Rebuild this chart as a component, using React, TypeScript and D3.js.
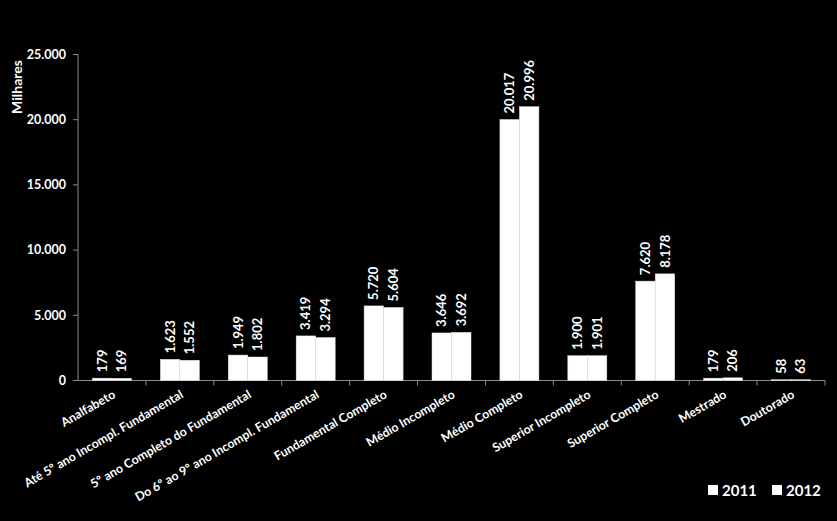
import React from "react";
import * as d3 from "d3";

const categories = [
  "Analfabeto",
  "Até 5º ano Incompl. Fundamental",
  "5º ano Completo do Fundamental",
  "Do 6º ao 9º ano Incompl. Fundamental",
  "Fundamental Completo",
  "Médio Incompleto",
  "Médio Completo",
  "Superior Incompleto",
  "Superior Completo",
  "Mestrado",
  "Doutorado",
];
const values2011 = [179, 1623, 1949, 3419, 5720, 3646, 20017, 1900, 7620, 179, 58];
const values2012 = [169, 1552, 1802, 3294, 5604, 3692, 20996, 1901, 8178, 206, 63];
const seriesNames = ["2011", "2012"];
const yTicks = [0, 5000, 10000, 15000, 20000, 25000];

const W = 837;
const H = 521;
const FONT = "Lato, 'Open Sans', sans-serif";

const locale = d3.formatLocale({ decimal: ",", thousands: ".", grouping: [3], currency: ["R$", ""] });
const fmt = locale.format(",d");

export default function App() {
  const left = 78;
  const right = 825;
  const top = 54.5;
  const bottom = 380.5;

  const x = d3.scaleBand<string>().domain(categories).range([left, right]).paddingInner(0).paddingOuter(0);
  const y = d3.scaleLinear().domain([0, 25000]).range([bottom, top]);
  const groupW = 39;
  const sub = d3.scaleBand<string>().domain(seriesNames).range([0, groupW]).padding(0);

  const series = [values2011, values2012];

  return (
    <svg
      width={W}
      height={H}
      style={{ position: "fixed", left: 0, top: 0, background: "#000", display: "block" }}
      fontFamily={FONT}
    >
      <rect x={0} y={0} width={W} height={H} fill="#000" />
      {/* y axis */}
      <line x1={left} x2={left} y1={top} y2={bottom} stroke="#8c8c8c" strokeWidth={1} />
      {yTicks.map((t) => (
        <g key={t}>
          <line x1={left - 5} x2={left} y1={y(t)} y2={y(t)} stroke="#8c8c8c" />
          <text x={left - 12} y={y(t)} dy="0.35em" textAnchor="end" fill="#fff" fontSize={12.5} fontWeight={700}>
            {fmt(t)}
          </text>
        </g>
      ))}
      <text
        transform={`translate(22,87) rotate(-90)`}
        textAnchor="middle"
        fill="#fff"
        fontSize={14}
        fontWeight={700}
      >
        Milhares
      </text>
      {/* x axis */}
      <line x1={left - 2} x2={right} y1={bottom} y2={bottom} stroke="#8c8c8c" />
      {categories.map((c, i) => (
        <line
          key={"t" + i}
          x1={(x(c) as number) + x.bandwidth()}
          x2={(x(c) as number) + x.bandwidth()}
          y1={bottom}
          y2={bottom + 5}
          stroke="#8c8c8c"
        />
      ))}
      {/* bars */}
      {categories.map((c, i) => {
        const cx = (x(c) as number) + x.bandwidth() / 2;
        const g0 = cx - groupW / 2;
        return (
          <g key={c}>
            {series.map((vals, s) => {
              const bx = g0 + (sub(seriesNames[s]) as number);
              const by = y(vals[i]);
              return (
                <g key={s}>
                  <rect
                    x={bx}
                    y={by}
                    width={sub.bandwidth()}
                    height={bottom - by}
                    fill="#fff"
                    stroke="#e0e0e0"
                    strokeWidth={0.5}
                  />
                  <text
                    transform={`translate(${bx + sub.bandwidth() / 2},${by - 6}) rotate(-90)`}
                    dy="0.35em"
                    textAnchor="start"
                    fill="#fff"
                    fontSize={13}
                    fontWeight={700}
                  >
                    {fmt(vals[i])}
                  </text>
                </g>
              );
            })}
            <text
              transform={`translate(${cx},${bottom + 9}) rotate(-30)`}
              dy="0.7em"
              textAnchor="end"
              fill="#fff"
              fontSize={12.3}
              fontWeight={700}
            >
              {c}
            </text>
          </g>
        );
      })}
      {/* legend */}
      {seriesNames.map((s, i) => {
        const lx = 708 + i * 64;
        return (
          <g key={s}>
            <rect x={lx} y={485} width={10} height={10} fill="#fff" />
            <text x={lx + 14} y={496} fill="#fff" fontSize={15} fontWeight={700}>
              {s}
            </text>
          </g>
        );
      })}
    </svg>
  );
}
